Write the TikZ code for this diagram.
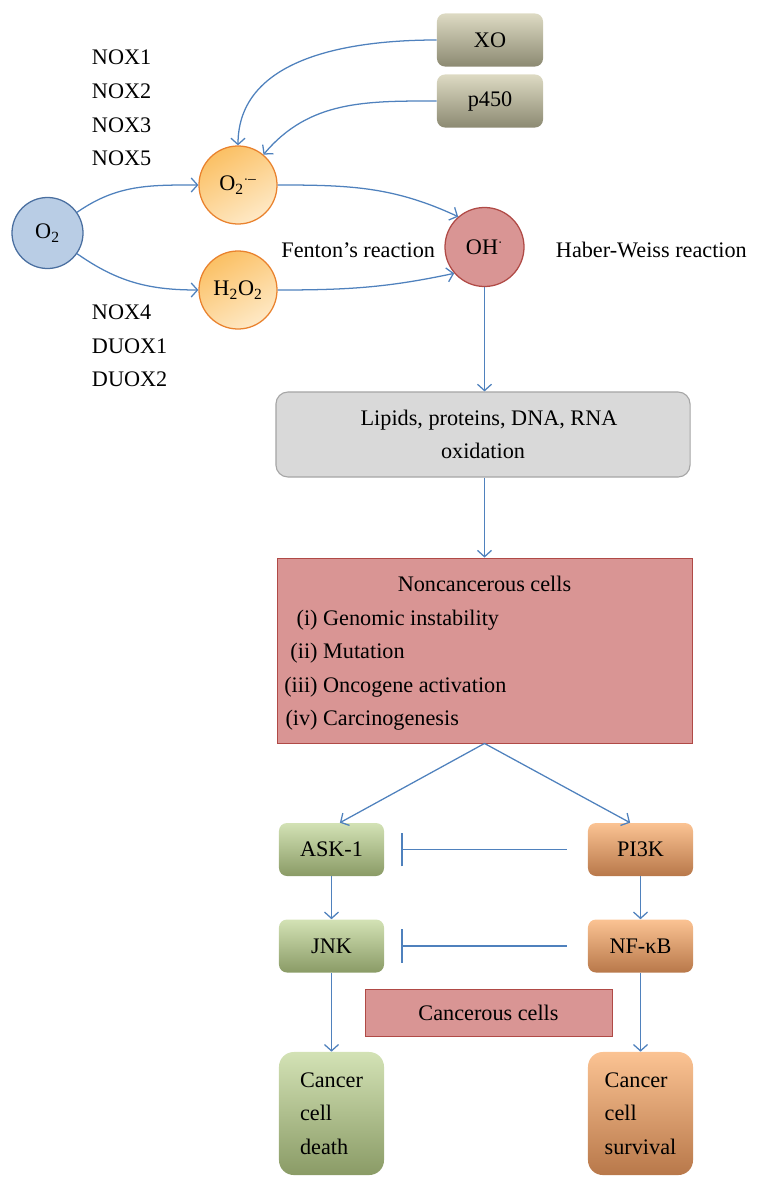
\documentclass[tikz,border=0pt]{standalone}
\usepackage{fontspec}
\setmainfont{Liberation Serif}
\usetikzlibrary{arrows.meta}

\definecolor{arrowblue}{HTML}{4F81BD}
\definecolor{oxyfill}{HTML}{B9CDE5}
\definecolor{oxyline}{HTML}{4A6FA0}
\definecolor{radtop}{HTML}{FBC064}
\definecolor{radbottom}{HTML}{FEE9C6}
\definecolor{radline}{HTML}{E9822E}
\definecolor{rosefill}{HTML}{D99594}
\definecolor{roseline}{HTML}{B04A46}
\definecolor{enztop}{HTML}{DDDAC3}
\definecolor{enzbottom}{HTML}{8C8A72}
\definecolor{greentop}{HTML}{D3E2B5}
\definecolor{greenbottom}{HTML}{8A9B66}
\definecolor{orangetop}{HTML}{FBC393}
\definecolor{orangebottom}{HTML}{B8784A}

\begin{document}
\begin{tikzpicture}[x=0.025cm,y=0.025cm,
    font=\fontsize{15.8}{24}\selectfont,
    flow/.style={draw=arrowblue,line width=0.9pt,-{Straight Barb[length=4.5pt,width=10pt]}},
    inhibit/.style={draw=arrowblue,line width=0.9pt,-{Bar[width=24pt]}},
    enzbox/.style={rounded corners=0.2cm,top color=enztop,bottom color=enzbottom,
        minimum width=2.65cm,minimum height=1.325cm,inner sep=0pt},
    greenbox/.style={rounded corners=0.2cm,top color=greentop,bottom color=greenbottom,
        minimum width=2.625cm,minimum height=1.325cm,inner sep=0pt},
    orangebox/.style={rounded corners=0.2cm,top color=orangetop,bottom color=orangebottom,
        minimum width=2.625cm,minimum height=1.325cm,inner sep=0pt},
    rosebox/.style={fill=rosefill,draw=roseline,line width=0.6pt,inner sep=0pt}]
\useasboundingbox (0,0) rectangle (760,-1189);

\begin{scope}[every node/.style={circle,inner sep=0pt,line width=0.9pt}]
    \node[fill=oxyfill,draw=oxyline,minimum size=1.775cm] (o2) at (47.5,-233) {O\textsubscript{2}};
    \node[top color=radtop,bottom color=radbottom,shading angle=30,draw=radline,minimum size=1.95cm]
        (superoxide) at (238,-185) {O\textsubscript{2}\textsuperscript{$\cdot$--}};
    \node[top color=radtop,bottom color=radbottom,shading angle=30,draw=radline,minimum size=1.95cm]
        (peroxide) at (238,-290) {H\textsubscript{2}O\textsubscript{2}};
    \node[fill=rosefill,draw=roseline,minimum size=1.975cm] (hydroxyl) at (484.5,-247) {OH\textsuperscript{$\cdot$}};
\end{scope}

\node[enzbox] (xo) at (490,-40) {XO};
\node[enzbox] (p450) at (490,-101) {p450};

\node[anchor=west,align=left] (noxup) at (87,-108) {NOX1\\NOX2\\NOX3\\NOX5};
\node[anchor=west,align=left] (noxdown) at (87,-346) {NOX4\\DUOX1\\DUOX2};
\node[anchor=east] (fenton) at (440,-250) {Fenton’s reaction};
\node[anchor=west] (haber) at (551,-250) {Haber-Weiss reaction};

\node[rounded corners=0.3cm,fill=black!15,draw=black!35,line width=0.8pt,
    minimum width=10.35cm,minimum height=2.125cm,align=center,
    font=\fontsize{15.8}{23}\selectfont] (lipids) at (483,-434.5)
    {\hspace*{0.3cm}Lipids, proteins, DNA, RNA\\oxidation};

\node[rosebox,minimum width=10.375cm,minimum height=4.625cm] (noncancer) at (484.5,-650.5) {};
\node (noncancertitle) at (484.5,-584) {Noncancerous cells};
\node[anchor=west,align=left,inner sep=0pt,font=\fontsize{15.8}{23.8}\selectfont] (noncancerlist) at (284,-670)
    {\makebox[1.5em][r]{(i)} Genomic instability\\
     \makebox[1.5em][r]{(ii)} Mutation\\
     \makebox[1.5em][r]{(iii)} Oncogene activation\\
     \makebox[1.5em][r]{(iv)} Carcinogenesis};

\node[greenbox] (ask1) at (331.5,-849.5) {ASK-1};
\node[greenbox] (jnk) at (331.5,-946) {JNK};
\node[orangebox] (pi3k) at (640.5,-849.5) {PI3K};
\node[orangebox] (nfkb) at (640.5,-946) {NF-κB};
\node[rosebox,minimum width=6.175cm,minimum height=1.175cm] (cancerous) at (488.5,-1012.5) {Cancerous cells};
\node[greenbox,rounded corners=0.37cm,minimum height=3.075cm,align=left] (death) at (331.5,-1113.5)
    {Cancer\\cell\\death};
\node[orangebox,rounded corners=0.37cm,minimum height=3.075cm,align=left] (survival) at (640.5,-1113.5)
    {Cancer\\cell\\survival};

\begin{scope}[every edge/.style={flow}]
    \path (o2) edge[out=35,in=180] (superoxide);
    \path (o2) edge[out=-35,in=180] (peroxide);
    \path (xo.west) edge[out=180,in=90] (superoxide.north);
    \path (p450.west) edge[out=180,in=50] (superoxide.50);
    \path (superoxide.east) edge[out=0,in=155] (hydroxyl.131);
    \path (peroxide.east) edge[out=0,in=192] (hydroxyl.221);
    \path (hydroxyl.south) edge (lipids.north -| hydroxyl);
    \path (lipids.south -| hydroxyl) edge (noncancer.north -| hydroxyl);
    \path (noncancer.south) edge ([xshift=0.21cm]ask1.north);
    \path (noncancer.south) edge ([xshift=-0.26cm]pi3k.north);
    \path (ask1) edge (jnk);
    \path (jnk) edge (death);
    \path (pi3k) edge (nfkb);
    \path (nfkb) edge (survival);
\end{scope}
\begin{scope}[every edge/.style={inhibit,shorten <=0.525cm,shorten >=0.425cm}]
    \path (pi3k) edge (ask1);
    \path (nfkb) edge (jnk);
\end{scope}
\end{tikzpicture}
\end{document}
